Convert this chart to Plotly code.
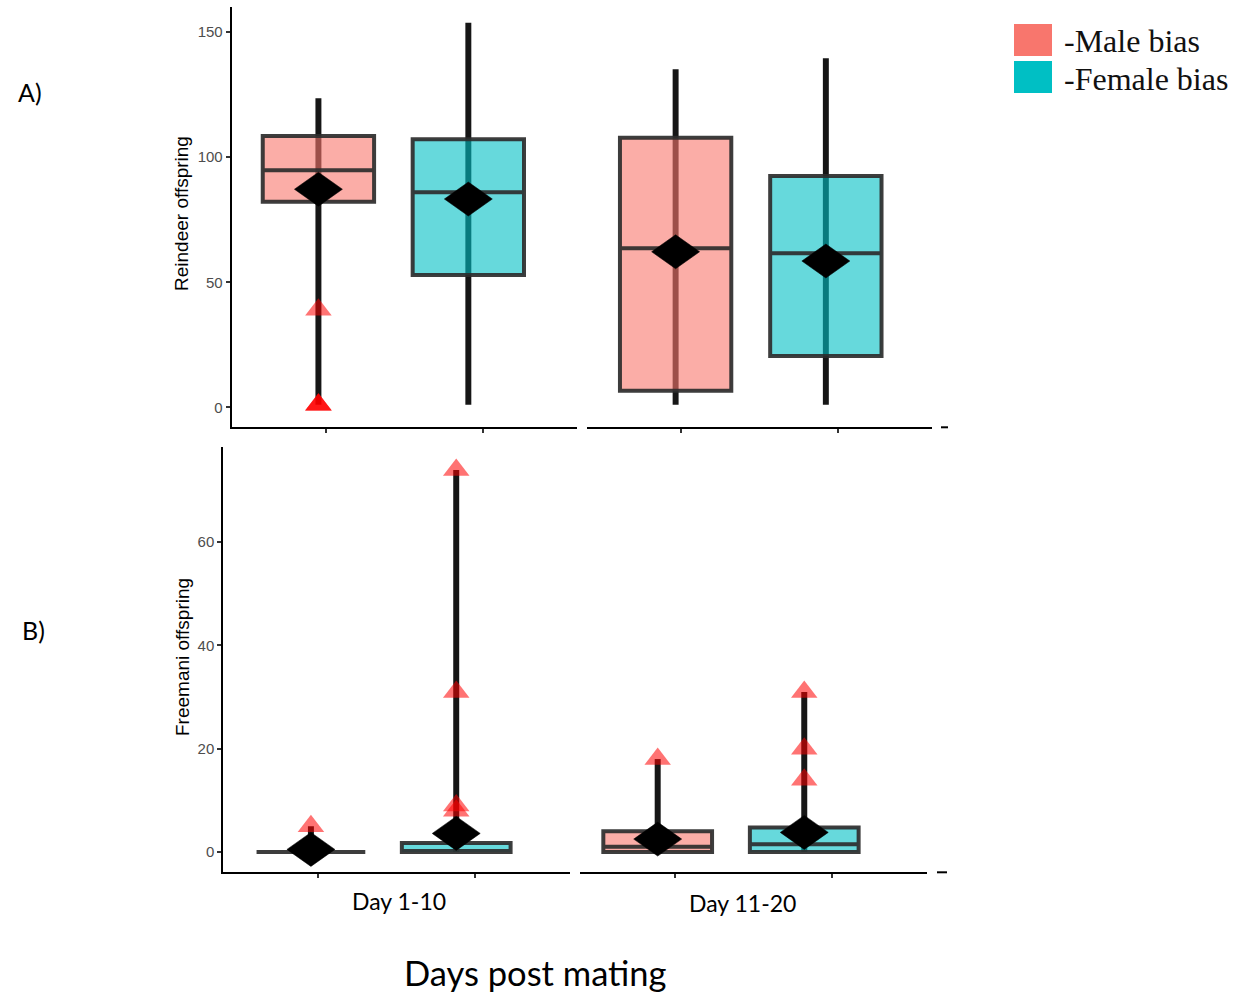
import plotly.graph_objects as go

# ---------------- data ----------------
periods = ["Day 1-10", "Day 11-20"]
groups = ["Male bias", "Female bias"]
# order of every list: [Day1-10 male, Day1-10 female, Day11-20 male, Day11-20 female]

# Panel A: Reindeer offspring
rein_min = [1, 1, 1, 1]
rein_q1 = [82.2, 52.9, 6.6, 20.5]
rein_median = [94.8, 86.0, 63.6, 61.6]
rein_q3 = [108.5, 107.2, 107.8, 92.5]
rein_max = [123.6, 153.8, 135.2, 139.6]
rein_mean = [87.2, 83.3, 62.2, 58.5]
rein_outliers = [[39, 1, 1, 1], [], [], []]

# Panel B: Freemani offspring
free_min = [0, 0, 0, 0]
free_q1 = [0, 0, 0, 0]
free_median = [0, 0, 1, 1.5]
free_q3 = [0, 1.75, 4, 4.75]
free_max = [5, 74, 18, 31]
free_mean = [0.5, 3.6, 2.5, 3.8]
free_outliers = [[5], [74, 31, 9, 8], [18], [31, 20, 14]]

y_ticks_a = [0, 50, 100, 150]
y_ticks_b = [0, 20, 40, 60]

# ---------------- styling / layout constants ----------------
W, H = 1236, 992
FILL = {"Male bias": "rgba(248,118,109,0.6)", "Female bias": "rgba(0,191,196,0.6)"}
SOLID = {"Male bias": "#F8766D", "Female bias": "#00BFC4"}
GROUP_POS = [1, 2]
X_RANGE = [0.4, 2.6]
# small horizontal nudges of the boxes relative to the tick marks (as in the composite figure)
NUDGE = {
    "A": [[-0.047, -0.091], [-0.033, -0.075]],
    "B": [[-0.044, -0.122], [-0.107, -0.177]],
}
BOX_W = {"A": 0.71, "B": 0.69}
RANGE_LINE_W = 0.038   # width of the min-max range line, in x data units
DIAMOND_PX = (48, 34)  # mean-marker size in pixels (width, height)

# pixel geometry of the panels
A_top, A_bot = 6.7, 427.3
B_top, B_bot = 446.7, 872.3
Y_RANGE = {"A": [-8.0, 160.2], "B": [-3.93, 78.5]}
X_DOM_PX = {"A": [(231.7, 576.7), (586.7, 931.7)], "B": [(223.3, 570.0), (580.0, 926.7)]}
Y_DOM_PX = {"A": (A_top, A_bot), "B": (B_top, B_bot)}


def px_x(px):
    return px / W


def px_y(py):
    return 1 - py / H


fig = go.Figure()

panels = {
    "A": dict(xaxes=["x", "x2"], yaxis="y", mn=rein_min, q1=rein_q1, med=rein_median,
              q3=rein_q3, mx=rein_max, mean=rein_mean, out=rein_outliers),
    "B": dict(xaxes=["x3", "x4"], yaxis="y2", mn=free_min, q1=free_q1, med=free_median,
              q3=free_q3, mx=free_max, mean=free_mean, out=free_outliers),
}

for key, P in panels.items():
    ytop, ybot = Y_DOM_PX[key]
    y_per_px = (Y_RANGE[key][1] - Y_RANGE[key][0]) / (ybot - ytop)
    for p, period in enumerate(periods):
        xa = P["xaxes"][p]
        ya = P["yaxis"]
        x0p, x1p = X_DOM_PX[key][p]
        x_per_px = (X_RANGE[1] - X_RANGE[0]) / (x1p - x0p)
        xs = [GROUP_POS[g] + NUDGE[key][p][g] for g in range(2)]
        idx = [2 * p + g for g in range(2)]
        # range lines (min..max) as thin bars: the bar layer sits beneath the translucent boxes
        fig.add_trace(go.Bar(
            x=xs, base=[P["mn"][i] for i in idx],
            y=[P["mx"][i] - P["mn"][i] for i in idx],
            width=RANGE_LINE_W, marker=dict(color="#161616", line=dict(width=0)),
            xaxis=xa, yaxis=ya, showlegend=False, hoverinfo="skip"))
        # boxes
        for g, grp in enumerate(groups):
            i = idx[g]
            fig.add_trace(go.Box(
                x=[xs[g]], q1=[P["q1"][i]], median=[P["med"][i]], q3=[P["q3"][i]],
                lowerfence=[P["q1"][i]], upperfence=[P["q3"][i]],
                width=BOX_W[key], fillcolor=FILL[grp],
                line=dict(color="rgba(45,45,45,0.92)", width=4),
                whiskerwidth=0, boxpoints=False, xaxis=xa, yaxis=ya,
                name=grp, showlegend=False))
        # outliers (red triangles)
        ox, oy = [], []
        for g in range(2):
            for v in P["out"][idx[g]]:
                ox.append(xs[g])
                oy.append(v)
        if ox:
            fig.add_trace(go.Scatter(x=ox, y=oy, mode="markers", xaxis=xa, yaxis=ya,
                                     marker=dict(symbol="triangle-up", size=23,
                                                 color="rgba(255,0,0,0.55)", line=dict(width=0)),
                                     showlegend=False, hoverinfo="skip"))
        # means (black wide diamonds), built around each mean value
        hw = DIAMOND_PX[0] / 2 * x_per_px
        hh = DIAMOND_PX[1] / 2 * y_per_px
        for g in range(2):
            m = P["mean"][idx[g]]
            cx = xs[g]
            fig.add_trace(go.Scatter(
                x=[cx - hw, cx, cx + hw, cx, cx - hw],
                y=[m, m + hh, m, m - hh, m],
                mode="lines", fill="toself", fillcolor="black",
                line=dict(color="black", width=0.5), xaxis=xa, yaxis=ya,
                showlegend=False, hoverinfo="skip"))

xaxis_common = dict(range=X_RANGE, tickvals=GROUP_POS, showticklabels=False,
                    ticks="outside", ticklen=4, tickwidth=1.5, tickcolor="#333",
                    showline=True, linecolor="black", linewidth=2, showgrid=False,
                    zeroline=False, fixedrange=True)
yaxis_common = dict(ticks="outside", ticklen=4, tickwidth=1.5, tickcolor="#333",
                    showline=True, linecolor="black", linewidth=2, showgrid=False,
                    zeroline=False,
                    tickfont=dict(family="Liberation Sans, Arial", size=15, color="#4d4d4d"))

fig.update_layout(
    width=W, height=H, margin=dict(l=0, r=0, t=0, b=0),
    paper_bgcolor="white", plot_bgcolor="white", boxmode="overlay", barmode="overlay",
    showlegend=False,
    xaxis=dict(domain=[px_x(X_DOM_PX["A"][0][0]), px_x(X_DOM_PX["A"][0][1])], anchor="y", **xaxis_common),
    xaxis2=dict(domain=[px_x(X_DOM_PX["A"][1][0]), px_x(X_DOM_PX["A"][1][1])], anchor="y", **xaxis_common),
    xaxis3=dict(domain=[px_x(X_DOM_PX["B"][0][0]), px_x(X_DOM_PX["B"][0][1])], anchor="y2", **xaxis_common),
    xaxis4=dict(domain=[px_x(X_DOM_PX["B"][1][0]), px_x(X_DOM_PX["B"][1][1])], anchor="y2", **xaxis_common),
    yaxis=dict(domain=[px_y(A_bot), px_y(A_top)], anchor="x", range=Y_RANGE["A"],
               tickvals=y_ticks_a, **yaxis_common),
    yaxis2=dict(domain=[px_y(B_bot), px_y(B_top)], anchor="x3", range=Y_RANGE["B"],
                tickvals=y_ticks_b, **yaxis_common),
)

# stray axis fragments at the right end of each panel
fig.add_shape(type="line", xref="paper", yref="paper", x0=px_x(941), x1=px_x(948),
              y0=px_y(A_bot), y1=px_y(A_bot), line=dict(color="black", width=2))
fig.add_shape(type="line", xref="paper", yref="paper", x0=px_x(937), x1=px_x(947),
              y0=px_y(B_bot), y1=px_y(B_bot), line=dict(color="black", width=2))

ann = []
# y-axis titles
ann.append(dict(text="Reindeer offspring", x=px_x(182), y=px_y(214), textangle=-90,
                font=dict(family="Liberation Sans, Arial", size=19, color="black")))
ann.append(dict(text="Freemani offspring", x=px_x(182), y=px_y(657), textangle=-90,
                font=dict(family="Liberation Sans, Arial", size=19, color="black")))
# panel letters
ann.append(dict(text="A)", x=px_x(30), y=px_y(92),
                font=dict(family="Lato", size=25, color="black")))
ann.append(dict(text="B)", x=px_x(33), y=px_y(630),
                font=dict(family="Lato", size=25, color="black")))
# facet labels + x title
ann.append(dict(text=periods[0], x=px_x(399), y=px_y(901),
                font=dict(family="Lato", size=23, color="black")))
ann.append(dict(text=periods[1], x=px_x(742), y=px_y(903),
                font=dict(family="Lato", size=23, color="black")))
ann.append(dict(text="Days post mating", x=px_x(535), y=px_y(972),
                font=dict(family="Lato", size=34.5, color="black")))
# legend text
ann.append(dict(text="-" + groups[0], x=px_x(1062), y=px_y(41), xanchor="left",
                font=dict(family="Liberation Serif, Times New Roman", size=32, color="#111")))
ann.append(dict(text="-" + groups[1], x=px_x(1062), y=px_y(79), xanchor="left",
                font=dict(family="Liberation Serif, Times New Roman", size=32, color="#111")))
for a in ann:
    a.update(xref="paper", yref="paper", showarrow=False)
    a.setdefault("xanchor", "center")
    a.setdefault("yanchor", "middle")
    fig.add_annotation(**a)

# legend keys
fig.add_shape(type="rect", xref="paper", yref="paper", x0=px_x(1014), x1=px_x(1052),
              y0=px_y(56), y1=px_y(24), fillcolor=SOLID[groups[0]], line=dict(width=0))
fig.add_shape(type="rect", xref="paper", yref="paper", x0=px_x(1014), x1=px_x(1052),
              y0=px_y(93), y1=px_y(61), fillcolor=SOLID[groups[1]], line=dict(width=0))

fig.write_html("out.html")
